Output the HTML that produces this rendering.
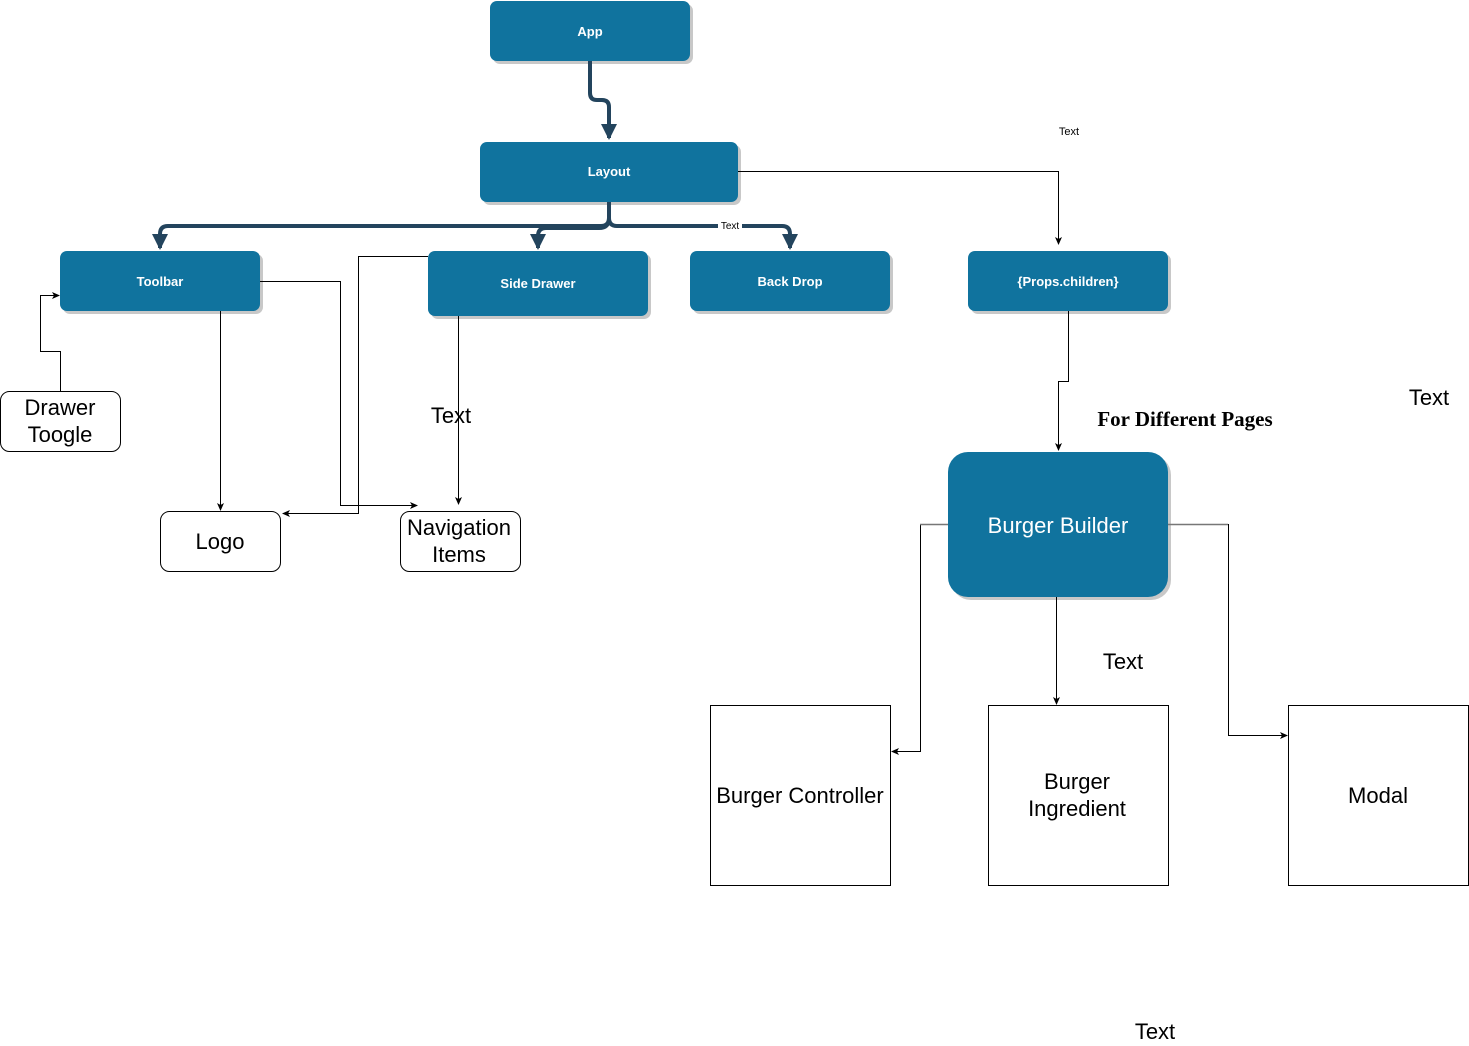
<!DOCTYPE html>
<html><head><meta charset="utf-8"><style>
html,body{margin:0;padding:0;background:#fff;width:1469px;height:1046px;overflow:hidden}
svg{display:block}
text{font-family:"Liberation Sans",Arial,sans-serif}
</style></head><body>
<svg width="1469" height="1046" viewBox="0 0 1469 1046" xmlns="http://www.w3.org/2000/svg">
<defs>
<marker id="a" markerWidth="8" markerHeight="8" refX="7" refY="4" orient="auto" markerUnits="userSpaceOnUse"><path d="M0,0.5 L8,4 L0,7.5 L2,4 Z" fill="#000"/></marker>
<marker id="b" markerWidth="16" markerHeight="16" refX="14" refY="8" orient="auto" markerUnits="userSpaceOnUse"><path d="M0,0 L16,8 L0,16 Z" fill="#23445D"/></marker>
</defs>
<g fill="#c8c8c8">
<rect x="493" y="4" width="200" height="60" rx="7"/>
<rect x="483" y="145" width="258" height="60" rx="7"/>
<rect x="63" y="254" width="200" height="60" rx="7"/>
<rect x="431" y="254" width="220" height="65" rx="7"/>
<rect x="693" y="254" width="200" height="60" rx="7"/>
<rect x="971" y="254" width="200" height="60" rx="7"/>
<rect x="951" y="455" width="220" height="145" rx="20"/>
</g>
<g fill="#10739E">
<rect x="490" y="1" width="200" height="60" rx="7"/>
<rect x="480" y="142" width="258" height="60" rx="7"/>
<rect x="60" y="251" width="200" height="60" rx="7"/>
<rect x="428" y="251" width="220" height="65" rx="7"/>
<rect x="690" y="251" width="200" height="60" rx="7"/>
<rect x="968" y="251" width="200" height="60" rx="7"/>
<rect x="948" y="452" width="220" height="145" rx="20"/>
</g>
<g fill="#fff" font-weight="bold" font-size="13" text-anchor="middle">
<text x="590" y="36">App</text>
<text x="609" y="176">Layout</text>
<text x="160" y="286">Toolbar</text>
<text x="538" y="288">Side Drawer</text>
<text x="790" y="286">Back Drop</text>
<text x="1068" y="286">{Props.children}</text>
</g>
<text x="1058" y="533" fill="#fff" font-size="22" text-anchor="middle">Burger Builder</text>
<g fill="none" stroke="#23445D" stroke-width="4">
<path d="M590,61 V93 Q590,100 597,100 H602 Q609,100 609,107 V138" marker-end="url(#b)"/>
<path d="M609,202 V218 Q609,226 601,226 H168 Q160,226 160,234 V248" marker-end="url(#b)"/>
<path d="M609,218 Q609,228 599,228 H546 Q538,228 538,236 V248" marker-end="url(#b)"/>
<path d="M609,218 Q609,226 617,226 H782 Q790,226 790,234 V248" marker-end="url(#b)"/>
</g>
<rect x="718" y="220" width="24" height="11" fill="#fff"/>
<text x="730" y="229" font-size="10" text-anchor="middle" fill="#000">Text</text>
<g fill="none" stroke="#000" stroke-width="1">
<path d="M738,171.5 H1058.5 V244" marker-end="url(#a)"/>
<path d="M1068.5,311 V381.5 H1058.5 V450" marker-end="url(#a)"/>
<path d="M260,281.5 H340.5 V505.5 H417" marker-end="url(#a)"/>
<path d="M220.5,311 V510" marker-end="url(#a)"/>
<path d="M428,256.5 H358.5 V513.5 H283" marker-end="url(#a)"/>
<path d="M458.5,316 V504" marker-end="url(#a)"/>
<path d="M60.5,391 V351.5 H40.5 V295.5 H59" marker-end="url(#a)"/>
<path d="M920.5,524 V751.5 H892" marker-end="url(#a)"/>
<path d="M1056.5,597 V704" marker-end="url(#a)"/>
<path d="M1228.5,524 V735.5 H1287" marker-end="url(#a)"/>
</g>
<g stroke="#777" stroke-width="1.5"><path d="M920,524.5 H948 M1168,524.5 H1228"/></g>
<g fill="#fff" stroke="#000" stroke-width="1">
<rect x="0.5" y="391.5" width="120" height="60" rx="9"/>
<rect x="160.5" y="511.5" width="120" height="60" rx="9"/>
<rect x="400.5" y="511.5" width="120" height="60" rx="9"/>
<rect x="710.5" y="705.5" width="180" height="180"/>
<rect x="988.5" y="705.5" width="180" height="180"/>
<rect x="1288.5" y="705.5" width="180" height="180"/>
</g>
<g fill="#000" font-size="22" text-anchor="middle">
<text x="60" y="415">Drawer</text>
<text x="60" y="442">Toogle</text>
<text x="220" y="549">Logo</text>
<text x="459" y="535">Navigation</text>
<text x="459" y="562">Items</text>
<text x="800" y="803">Burger Controller</text>
<text x="1077" y="789">Burger</text>
<text x="1077" y="816">Ingredient</text>
<text x="1378" y="803">Modal</text>
<text x="451" y="423">Text</text>
<text x="1429" y="405">Text</text>
<text x="1123" y="669">Text</text>
<text x="1155" y="1039">Text</text>
</g>
<text x="1069" y="135" font-size="11" text-anchor="middle">Text</text>
<text x="1185" y="426" style="font-family:'Liberation Serif',serif;font-weight:bold;font-size:21px" text-anchor="middle">For Different Pages</text>
</svg>
</body></html>
